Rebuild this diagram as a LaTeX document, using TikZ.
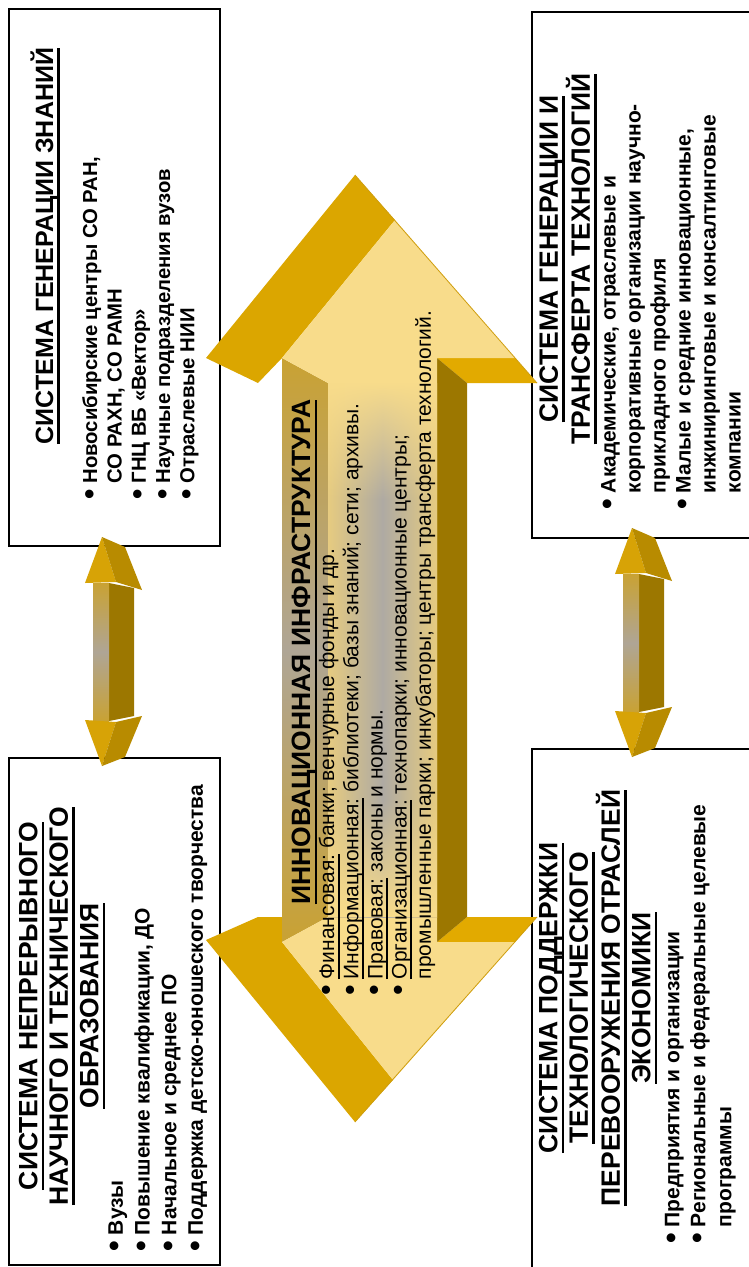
\documentclass[tikz,border=0pt]{standalone}
\usepackage{fontspec}
\usepackage{graphicx}
\setmainfont{Liberation Sans}
\usetikzlibrary{fadings}
\definecolor{goldband}{HTML}{DBA600}
\definecolor{goldunder}{HTML}{E2AA00}
\definecolor{goldside}{HTML}{9C7700}
\definecolor{goldface}{HTML}{C9A233}
\definecolor{goldgray}{HTML}{AFA595}
\definecolor{goldedge}{HTML}{CF9E10}
\definecolor{paleface}{HTML}{F8DC8B}
\definecolor{palegray}{HTML}{AEAAA3}
\definecolor{shaftedge}{HTML}{E6CB80}
\definecolor{headfront}{HTML}{D7A306}
\definecolor{headside}{HTML}{B88B00}
% underline with a thick rule
\newcommand{\uln}[1]{\setbox0=\hbox{#1}\rlap{\rule[-0.26em]{\wd0}{0.09em}}\box0\relax}
% big list bullet
\newcommand{\dotmark}{\raisebox{-0.1em}{\scalebox{1.45}{\textbullet}}}
\tikzset{
  box/.style={draw=black, line width=1.6pt, fill=white, inner sep=0pt, anchor=north west},
  rtext/.style={rotate=90, inner sep=0pt},
  ttl/.style={rtext, align=center, font=\fontsize{26.5}{30.5}\selectfont\bfseries},
  lst/.style={rtext, anchor=north west, font=\fontsize{21}{#1}\selectfont\bfseries},
}
\begin{document}
\begin{tikzpicture}[x=1pt,y=-1pt]
\useasboundingbox (0,0) rectangle (749,1267);
% boxes
\node[box, minimum width=211pt, minimum height=537pt] (knowledge) at (8,8) {};
\node[box, minimum width=240pt, minimum height=526pt] (techtransfer) at (531,11) {};
\node[box, minimum width=211pt, minimum height=507pt] (education) at (8,757) {};
\node[box, minimum width=240pt, minimum height=540pt] (reequip) at (531,748) {};
% small double arrows
\foreach \sx/\sy in {0/0,530/-9} {
  \begin{scope}[shift={(\sx,\sy)}]
    \fill[headfront] (102,537) -- (85,583) -- (116,582) -- cycle;
    \fill[headside] (102,537) -- (125,547) -- (142,590) -- (116,582) -- cycle;
    \fill[goldside] (109,583) -- (134,588) -- (134,716) -- (109,721) -- cycle;
    \shade[top color=goldface, bottom color=goldface, middle color=goldgray] (93,583) rectangle (109,721);
    \fill[headfront] (85,720) -- (116,722) -- (102,766) -- cycle;
    \fill[headside] (116,722) -- (142,716) -- (125,757) -- (102,766) -- cycle;
  \end{scope}
}
% big double arrow
\fill[goldband] (355,175) -- (395,220) -- (282,358) -- (258,383) -- (206,358) -- cycle;
\fill[goldband] (206,940) -- (258,917) -- (282,917) -- (282,942) -- (393,1080) -- (355,1122) -- cycle;
\fill[goldunder] (437,358) -- (515,358) -- (537,383) -- (467,383) -- cycle;
\fill[goldunder] (437,942) -- (467,917) -- (537,917) -- (515,942) -- cycle;
\fill[goldside] (437,358) -- (467,383) -- (467,917) -- (437,942) -- cycle;
\shade[top color=goldface, bottom color=goldface, middle color=goldgray] (282,358) -- (328,383) -- (328,917) -- (282,942) -- cycle;
\fill[paleface] (282,358) -- (395,220) -- (515,358) -- (437,358) -- (437,942) -- (515,942) -- (393,1080) -- (282,942) -- (328,917) -- (328,383) -- cycle;
\shade[left color=shaftedge, right color=shaftedge, middle color=palegray] (328,383) rectangle (437,917);
\fill[paleface, path fading=south] (328,383) rectangle (437,500);
\fill[paleface, path fading=north] (328,800) rectangle (437,917);
\draw[goldedge, line width=0.8pt] (355,175) -- (537,383);
\draw[goldedge, line width=0.8pt] (537,917) -- (355,1122);
% texts
\node[ttl, anchor=base, font=\fontsize{25}{29}\selectfont\bfseries] (knowledgetitle) at (53,246) {\uln{СИСТЕМА ГЕНЕРАЦИИ ЗНАНИЙ}};
\node[lst=24.3, font=\fontsize{20.3}{24.3}\selectfont\bfseries] (knowledgelist) at (80,500) {\begin{tabular}{@{}l@{\hspace{6pt}}l@{}}
  \dotmark & Новосибирские центры СО РАН,\\
  & СО РАХН, СО РАМН\\
  \dotmark & ГНЦ ВБ «Вектор»\\
  \dotmark & Научные подразделения вузов\\
  \dotmark & Отраслевые НИИ
\end{tabular}};
\node[ttl] (techtransfertitle) at (568,259) {\uln{СИСТЕМА ГЕНЕРАЦИИ И}\\\uln{ТРАНСФЕРТА ТЕХНОЛОГИЙ}};
\node[lst=25] (techtransferlist) at (598,510) {\begin{tabular}{@{}l@{\hspace{6pt}}l@{}}
  \dotmark & Академические, отраслевые и\\
  & корпоративные организации научно-\\
  & прикладного профиля\\
  \dotmark & Малые и средние инновационные,\\
  & инжиниринговые и консалтинговые\\
  & компании
\end{tabular}};
\node[ttl] (educationtitle) at (62,1006) {\uln{СИСТЕМА НЕПРЕРЫВНОГО}\\\uln{НАУЧНОГО И ТЕХНИЧЕСКОГО}\\\uln{ОБРАЗОВАНИЯ}};
\node[lst=26.7] (educationlist) at (104,1252) {\begin{tabular}{@{}l@{\hspace{6pt}}l@{}}
  \dotmark & Вузы\\
  \dotmark & Повышение квалификации, ДО\\
  \dotmark & Начальное и среднее ПО\\
  \dotmark & Поддержка детско-юношеского творчества
\end{tabular}};
\node[ttl] (reequiptitle) at (598,998) {\uln{СИСТЕМА ПОДДЕРЖКИ}\\\uln{ТЕХНОЛОГИЧЕСКОГО}\\\uln{ПЕРЕВООРУЖЕНИЯ ОТРАСЛЕЙ}\\\uln{ЭКОНОМИКИ}};
\node[lst=26] (reequiplist) at (661,1244) {\begin{tabular}{@{}l@{\hspace{6pt}}l@{}}
  \dotmark & Предприятия и организации\\
  \dotmark & Региональные и федеральные целевые\\
  & программы
\end{tabular}};
\node[ttl, anchor=base] (infratitle) at (310,652) {\uln{ИННОВАЦИОННАЯ ИНФРАСТРУКТУРА}};
\node[rtext, anchor=north west, font=\fontsize{21}{24.2}\selectfont] (infralist) at (317,996) {\begin{tabular}{@{}l@{\hspace{6pt}}l@{}}
  \dotmark & \uln{Финансовая:} банки; венчурные фонды и др.\\
  \dotmark & \uln{Информационная:} библиотеки; базы знаний; сети; архивы.\\
  \dotmark & \uln{Правовая:} законы и нормы.\\
  \dotmark & \uln{Организационная:} технопарки; инновационные центры;\\
  & промышленные парки; инкубаторы; центры трансферта технологий.
\end{tabular}};
\end{tikzpicture}
\end{document}
